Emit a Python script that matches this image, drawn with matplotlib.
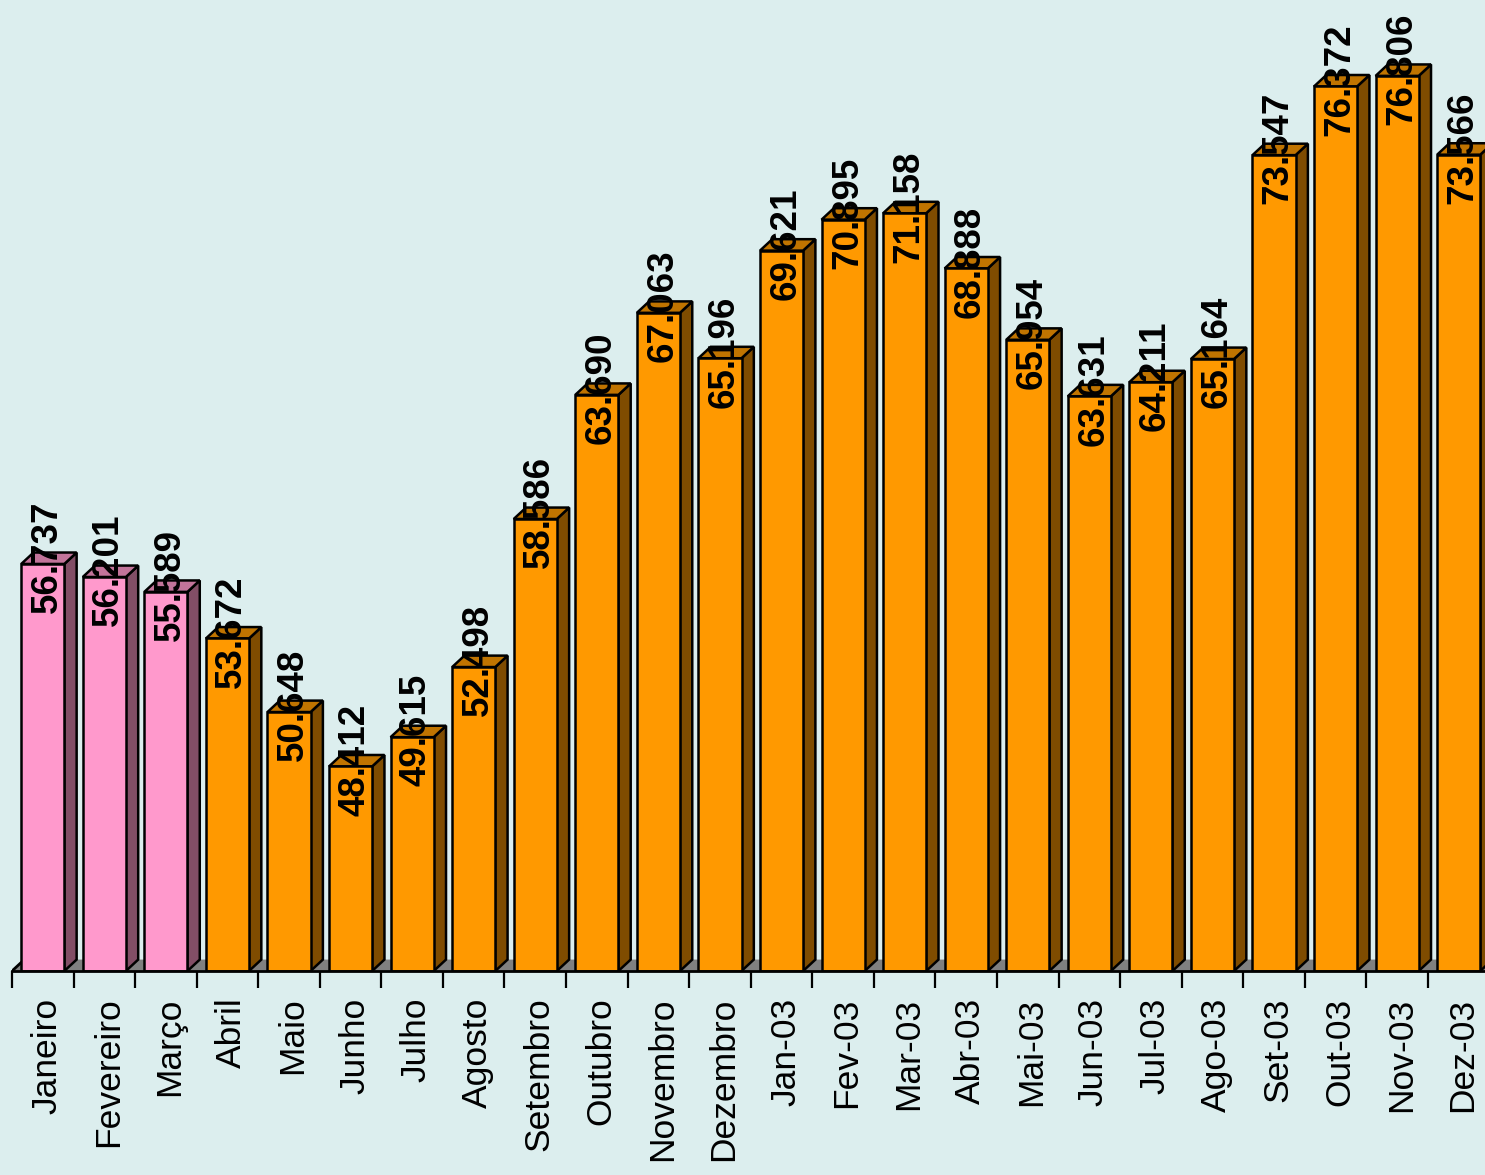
import numpy as np
import matplotlib
matplotlib.use("Agg")
import matplotlib.pyplot as plt
import matplotlib.transforms as mtransforms
from matplotlib.patches import Polygon

meses = [
    "Janeiro", "Fevereiro", "Março", "Abril", "Maio", "Junho", "Julho",
    "Agosto", "Setembro", "Outubro", "Novembro", "Dezembro",
    "Jan-03", "Fev-03", "Mar-03", "Abr-03", "Mai-03", "Jun-03", "Jul-03",
    "Ago-03", "Set-03", "Out-03", "Nov-03", "Dez-03",
]
valores = [
    56737, 56201, 55589, 53672, 50648, 48412, 49615, 52498, 58586, 63690,
    67063, 65196, 69621, 70895, 71158, 68888, 65954, 63631, 64211, 65164,
    73547, 76372, 76806, 73566,
]
# primeiros 3 meses em rosa, o resto em laranja
destaque = [True] * 3 + [False] * 21

fundo = "#dceeee"
cores = {
    True: ("#ff99cc", "#824e66", "#c2749a"),
    False: ("#ff9900", "#7f4c00", "#c07400"),
}

base = 40000
topo = 80000
largura = 0.7
dx = 0.2      # profundidade em categorias
dy = 470      # profundidade em unidades do eixo y

fig = plt.figure(figsize=(14.85, 11.75), dpi=100, facecolor=fundo)
ax = fig.add_axes([12 / 1485, 204 / 1175, 1477.5 / 1485, 972.8 / 1175])
ax.set_facecolor(fundo)

x = np.arange(len(valores))
ax.set_xlim(-0.5, len(valores) - 0.5)
ax.set_ylim(base, topo)

# chão cinzento
chao = Polygon(
    [(-0.5, base), (len(valores) - 0.5, base),
     (len(valores) - 0.5 + dx, base + dy), (-0.5 + dx, base + dy)],
    closed=True, facecolor="#808080", edgecolor="none", zorder=1,
)
ax.add_patch(chao)
ax.plot([-0.5, -0.5 + dx], [base, base + dy], color="black", lw=2,
        zorder=2, solid_capstyle="butt")

for i, v in enumerate(valores):
    frente, lado, cima = cores[destaque[i]]
    xd = i + largura / 2
    xe = i - largura / 2
    lado_poly = Polygon(
        [(xd, base), (xd + dx, base + dy), (xd + dx, v + dy), (xd, v)],
        closed=True, facecolor=lado, edgecolor="black", lw=1.8, zorder=3,
    )
    cima_poly = Polygon(
        [(xe, v), (xd, v), (xd + dx, v + dy), (xe + dx, v + dy)],
        closed=True, facecolor=cima, edgecolor="black", lw=1.8, zorder=3,
    )
    ax.add_patch(lado_poly)
    ax.add_patch(cima_poly)

ax.bar(x, np.array(valores) - base, bottom=base, width=largura,
       color=[cores[d][0] for d in destaque], edgecolor="black",
       linewidth=1.8, zorder=4)

for i, v in enumerate(valores):
    texto = f"{v:,}".replace(",", ".")
    ax.text(i + 0.07, v + dy * 0.6, texto, rotation=90, ha="center",
            va="center", rotation_mode="anchor", fontsize=26.5,
            fontweight="bold", family="Liberation Sans", color="black",
            zorder=6)

for s in ["left", "right", "top"]:
    ax.spines[s].set_visible(False)
ax.spines["bottom"].set_linewidth(2)
ax.spines["bottom"].set_zorder(5)

ax.set_yticks([])
ax.set_xticks(x)
ax.set_xticklabels(meses, rotation=90, fontsize=25.5, family="Liberation Sans")
ax.set_xticks(np.arange(-0.5, len(valores)), minor=True)
ax.tick_params(axis="x", which="major", length=0, pad=19)
ax.tick_params(axis="x", which="minor", length=12, width=1.6,
               direction="out", color="black")

# desloca os rótulos um pouco para a direita
desloc = mtransforms.ScaledTranslation(4 / 100, 0, fig.dpi_scale_trans)
for lbl in ax.get_xticklabels():
    lbl.set_transform(lbl.get_transform() + desloc)

fig.savefig("out.png", dpi=100, facecolor=fundo)
